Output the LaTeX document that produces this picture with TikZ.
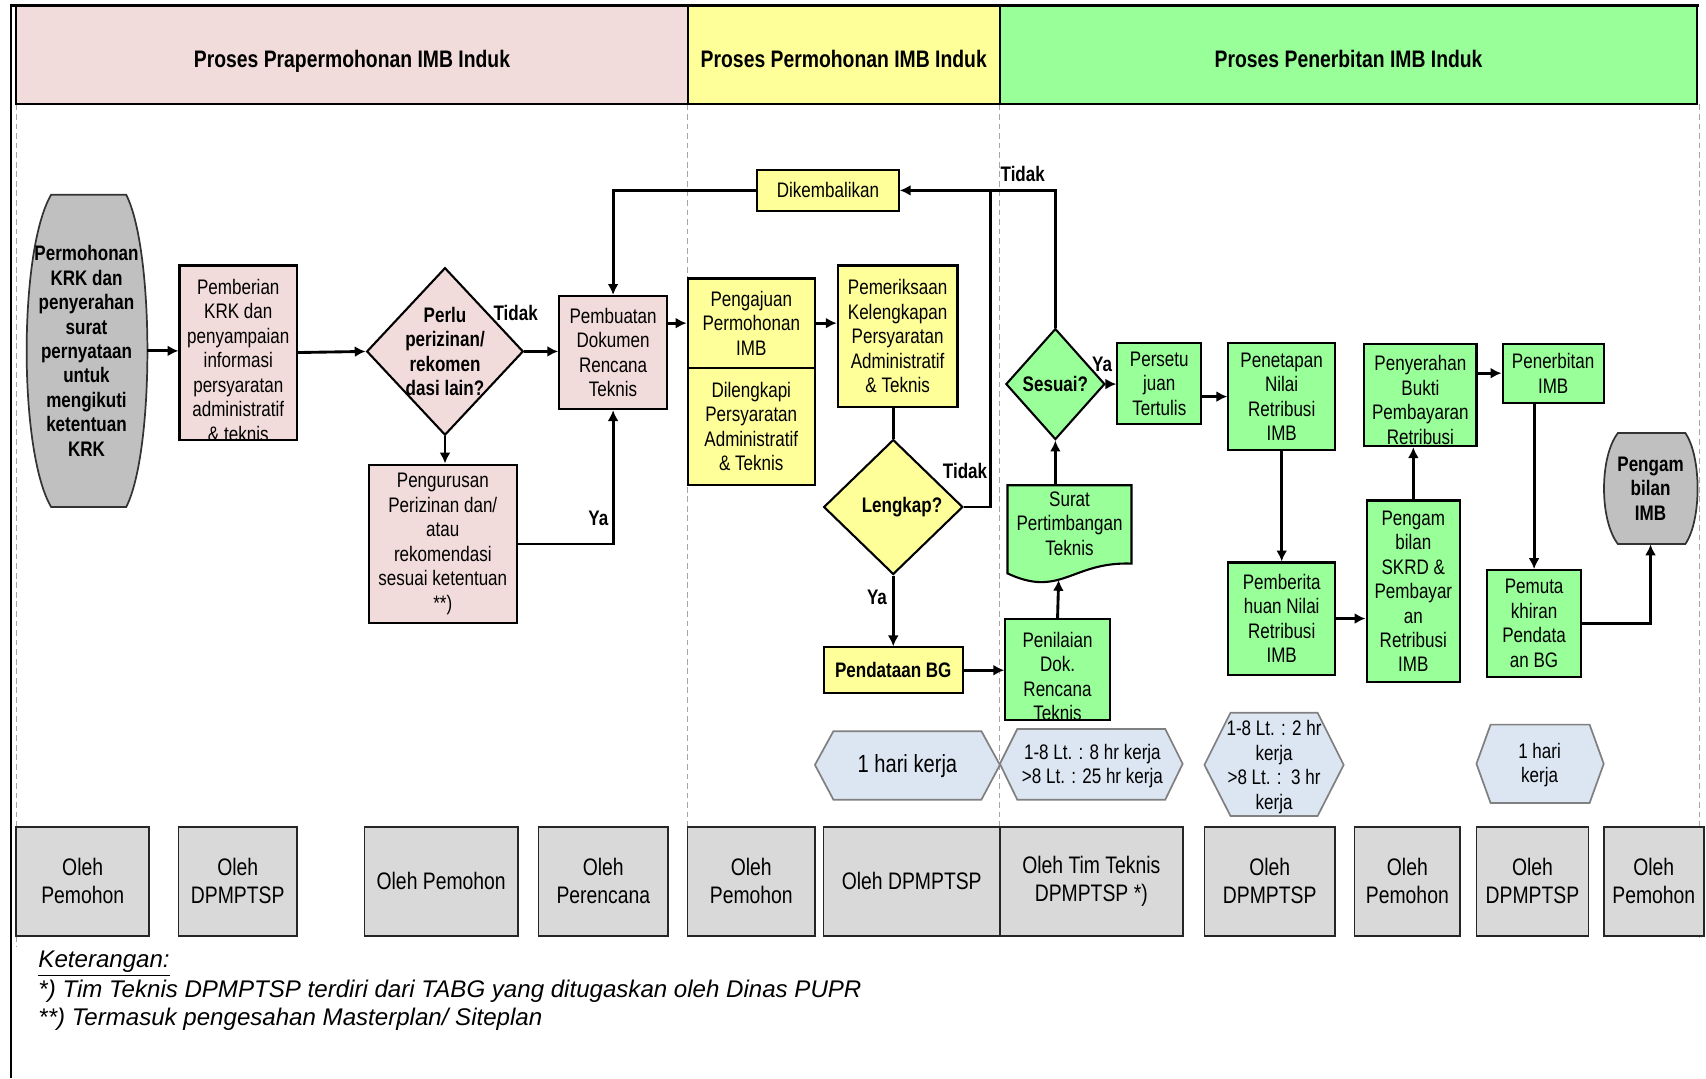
\documentclass[tikz,border=0pt]{standalone}
\usepackage{fontspec}
\setmainfont{Liberation Sans}[FakeStretch=0.81]
\newfontfamily\notefont{Liberation Sans}
\usepackage{xcolor}
\usepackage{tikz}
\usetikzlibrary{arrows.meta,positioning,calc,shapes.geometric}
\definecolor{pinkbg}{HTML}{F2DCDB}
\definecolor{yellowbg}{HTML}{FFFF99}
\definecolor{greenbg}{HTML}{99FF99}
\definecolor{termgray}{HTML}{C0C0C0}
\definecolor{whogray}{HTML}{D9D9D9}
\definecolor{timebg}{HTML}{DCE6F2}
\definecolor{laneline}{HTML}{A6A6A6}

\begin{document}
\begin{tikzpicture}[x=0.02cm, y=-0.02cm,
    every node/.style={font=\fontsize{11}{12.8}\selectfont, inner sep=0pt, align=center},
    area/.style args={#1/#2/#3/#4}{at={({(#1+#3)/2},{(#2+#4)/2})}, minimum width={(#3-#1)*0.02cm}, minimum height={(#4-#2)*0.02cm}},
    box/.style={draw, line width=1.1pt},
    pbox/.style={box, fill=pinkbg},
    ybox/.style={box, fill=yellowbg},
    gbox/.style={box, fill=greenbg},
    head/.style={draw, line width=1pt, text height=15pt, text depth=2.6pt, font=\fontsize{12.5}{14}\selectfont\bfseries},
    dia/.style={diamond, draw, line width=1.1pt},
    dtxt/.style={font=\fontsize{11}{12.8}\selectfont\bfseries, align=center},
    bold/.style={font=\fontsize{11}{12.8}\selectfont\bfseries},
    who/.style={draw=black!85, line width=0.9pt, fill=whogray, font=\fontsize{12.5}{14.5}\selectfont},
    hexa/.style={draw=black!50, line width=0.9pt, fill=timebg},
    term/.style={draw=black!80, line width=0.9pt, fill=termgray},
    lane/.style={laneline, dash pattern=on 3pt off 2pt, line width=0.6pt},
    lbl/.style={font=\fontsize{11}{12.8}\selectfont\bfseries},
    note/.style={anchor=west, font=\notefont\fontsize{12.6}{14.5}\selectfont\itshape},
    conn/.style={line width=1.5pt},
    arr/.style={line width=1.5pt, -{Latex[length=2mm,width=2mm]}},
    cut/.style 2 args={path picture={\node[anchor=north] at ([yshift=#1]path picture bounding box.north) {#2};}}
  ]
  \useasboundingbox (0,0) rectangle (1568,991);

  % frame and lanes
  \draw[line width=1.4pt] (10,991) -- (10,5) -- (1562,5);
  \draw[lane] (15,96) -- (15,870);
  \draw[lane] (632,96) -- (632,760);
  \draw[lane] (919,96) -- (919,760);
  \draw[lane] (1562,96) -- (1562,862);

  % headers
  \node[head, fill=pinkbg, area=15/6/632/96] (hpra) {Proses Prapermohonan IMB Induk};
  \node[head, fill=yellowbg, area=632/6/919/96] (hmohon) {Proses Permohonan IMB Induk};
  \node[head, fill=greenbg, area=919/6/1560/96] (hterbit) {Proses Penerbitan IMB Induk};

  % prapermohonan
  \draw[term] (47,179) -- (116,179) .. controls (142,230) and (142,415) .. (116,466) -- (47,466) .. controls (17,415) and (17,230) .. (47,179) -- cycle;
  \node[bold, area=24/179/135/466] (start) {Permohonan\\KRK dan\\penyerahan\\surat\\pernyataan\\untuk\\mengikuti\\ketentuan\\KRK};
  \node[pbox, area=165/244/273/404, cut={-3.5pt}{Pemberian\\KRK dan\\penyampaian\\informasi\\persyaratan\\administratif\\\& teknis}] (beri) {};
  \node[dia, fill=pinkbg, minimum width=2.88cm, minimum height=3.08cm, label={[dtxt]center:{Perlu\\perizinan/\\rekomen\\dasi lain?}}] (perlu) at (409,323) {};
  \node[pbox, area=339/427/475/573] (urus) {Pengurusan\\Perizinan dan/\\atau\\rekomendasi\\sesuai ketentuan\\**)};
  \node[pbox, area=514/272/613/376] (buat) {Pembuatan\\Dokumen\\Rencana\\Teknis};

  % permohonan
  \node[ybox, area=696/156/826/194] (balik) {Dikembalikan};
  \node[ybox, area=632/256/749/338] (aju) {Pengajuan\\Permohonan\\IMB};
  \node[ybox, area=632/338/749/446] (lengkapi) {Dilengkapi\\Persyaratan\\Administratif\\\& Teknis};
  \node[ybox, area=770/244/880/374] (periksa) {Pemeriksaan\\Kelengkapan\\Persyaratan\\Administratif\\\& Teknis};
  \node[dia, fill=yellowbg, minimum width=2.56cm, minimum height=2.48cm, label={[dtxt, xshift=0.16cm]center:Lengkap?}] (lengkap) at (821,466) {};
  \node[ybox, bold, area=757/595/885/637] (data) {Pendataan BG};

  % penerbitan
  \node[gbox, area=924/569/1020/662, cut={-3pt}{Penilaian\\Dok.\\Rencana\\Teknis}] (nilai) {};
  \draw[gbox] (926,446) -- (1040,446) -- (1040,518) .. controls (985,516) and (975,550) .. (926,527) -- cycle;
  \node[area=926/446/1040/516] (surat) {Surat\\Pertimbangan\\Teknis};
  \coordinate (suratbot) at (973,533);
  \node[dia, fill=greenbg, minimum width=1.82cm, minimum height=2.04cm, label={[dtxt]center:Sesuai?}] (sesuai) at (970,353) {};
  \node[gbox, area=1027/315/1104/390] (setuju) {Persetu\\juan\\Tertulis};
  \node[gbox, area=1129/315/1227/414] (tetap) {Penetapan\\Nilai\\Retribusi\\IMB};
  \node[gbox, area=1129/517/1227/620] (tahu) {Pemberita\\huan Nilai\\Retribusi\\IMB};
  \node[gbox, area=1256/460/1342/627] (skrd) {Pengam\\bilan\\SKRD \&\\Pembayar\\an\\Retribusi\\IMB};
  \node[gbox, area=1254/316/1357/410, cut={-2pt}{Penyerahan\\Bukti\\Pembayaran\\Retribusi}] (serah) {};
  \node[gbox, area=1381/316/1474/370] (terbit) {Penerbitan\\IMB};
  \node[gbox, area=1367/524/1453/622] (mutakhir) {Pemuta\\khiran\\Pendata\\an BG};
  \draw[term] (1487,398) -- (1549,398) .. controls (1564,420) and (1564,478) .. (1549,500) -- (1487,500) .. controls (1470,478) and (1470,420) .. (1487,398) -- cycle;
  \node[bold, area=1474/398/1560/500] (ambil) {Pengam\\bilan\\IMB};

  % waktu
  \draw[hexa] (749,703) -- (766,672) -- (902,672) -- (919,703) -- (902,735) -- (766,735) -- cycle;
  \node[font=\fontsize{13}{15}\selectfont] (waktu1) at (834,704) {1 hari kerja};
  \draw[hexa] (919,702) -- (935,670) -- (1071,670) -- (1087,702) -- (1071,735) -- (935,735) -- cycle;
  \node (waktu2) at (1004,704) {1-8 Lt. : 8 hr kerja\\>8 Lt. : 25 hr kerja};
  \draw[hexa] (1107,703) -- (1131,655) -- (1211,655) -- (1235,703) -- (1211,750) -- (1131,750) -- cycle;
  \node (waktu3) at (1171,705) {1-8 Lt. : 2 hr\\kerja\\>8 Lt. :\ \ 3 hr\\kerja};
  \draw[hexa] (1357,702) -- (1370,666) -- (1461,666) -- (1474,702) -- (1461,738) -- (1370,738) -- cycle;
  \node (waktu4) at (1415,703) {1 hari\\kerja};

  % pelaksana
  \node[who, area=15/760/137/860] (oleh1) {Oleh\\Pemohon};
  \node[who, area=164/760/273/860] (oleh2) {Oleh\\DPMPTSP};
  \node[who, area=335/760/476/860] (oleh3) {Oleh Pemohon};
  \node[who, area=495/760/614/860] (oleh4) {Oleh\\Perencana};
  \node[who, area=632/760/749/860] (oleh5) {Oleh\\Pemohon};
  \node[who, area=757/760/919/860] (oleh6) {Oleh DPMPTSP};
  \node[who, area=919/760/1087/860] (oleh7) {Oleh Tim Teknis\\DPMPTSP *)};
  \node[who, area=1107/760/1227/860] (oleh8) {Oleh\\DPMPTSP};
  \node[who, area=1245/760/1342/860] (oleh9) {Oleh\\Pemohon};
  \node[who, area=1357/760/1460/860] (oleh10) {Oleh\\DPMPTSP};
  \node[who, area=1474/760/1566/860] (oleh11) {Oleh\\Pemohon};

  % keterangan
  \node[note] (ket) at (35,886) {\underline{Keterangan:}};
  \node[note] (ket1) at (35,911) {*) Tim Teknis DPMPTSP terdiri dari TABG yang ditugaskan oleh Dinas PUPR};
  \node[note] (ket2) at (35,937) {**) Termasuk pengesahan Masterplan/ Siteplan};

  % alur
  \draw[arr] (start.east) -- (start.east -| beri.west);
  \draw[arr] (beri.east) -- (perlu.west);
  \draw[arr] (perlu.east) -- (perlu.east -| buat.west);
  \draw[arr] (perlu.south) -- (perlu.south |- urus.north);
  \draw[arr] (urus.east) -| (buat.south);
  \draw[arr] (balik.west) -| (buat.north);
  \draw[arr] (buat.east |- aju.west) -- (aju.west);
  \draw[arr] (aju.east) -- (aju.east -| periksa.west);
  \draw[conn] (lengkap.north |- periksa.south) -- (lengkap.north);
  \coordinate (back) at (910,175);
  \draw[arr] (lengkap.east) -| (back) -- (balik.east);
  \draw[conn] (sesuai.north) |- (back);
  \draw[arr] (lengkap.south) -- (lengkap.south |- data.north);
  \draw[arr] (data.east) -- (data.east -| nilai.west);
  \draw[arr] (nilai.north) -- (suratbot);
  \draw[arr] (sesuai.south |- surat.north) -- (sesuai.south);
  \draw[arr] (sesuai.east) -- (sesuai.east -| setuju.west);
  \draw[arr] (setuju.east |- tetap.west) -- (tetap.west);
  \draw[arr] (tetap.south) -- (tetap.south |- tahu.north);
  \draw[arr] (tahu.east) -- (tahu.east -| skrd.west);
  \draw[arr] (skrd.north) -- (skrd.north |- serah.south);
  \draw[arr] (serah.east |- terbit.west) -- (terbit.west);
  \draw[arr] (mutakhir.north |- terbit.south) -- (mutakhir.north);
  \draw[arr] (mutakhir.east) -| (ambil.south);

  \node[lbl] (tidak1) at (474,288) {Tidak};
  \node[lbl] (ya1) at (550,476) {Ya};
  \node[lbl] (tidak2) at (887,433) {Tidak};
  \node[lbl] (ya2) at (806,549) {Ya};
  \node[lbl] (tidak3) at (940,160) {Tidak};
  \node[lbl] (ya3) at (1013,335) {Ya};
\end{tikzpicture}
\end{document}
